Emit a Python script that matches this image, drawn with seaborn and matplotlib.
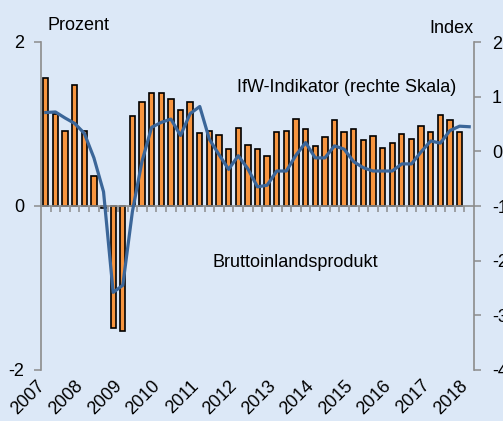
import numpy as np
import pandas as pd
import matplotlib
matplotlib.use("Agg")
import matplotlib.pyplot as plt
import matplotlib.transforms as mtransforms
import seaborn as sns

plt.rcParams['font.family'] = ['Liberation Sans', 'DejaVu Sans']
plt.rcParams['axes.unicode_minus'] = False

# ---- data ----
years = ["2007", "2008", "2009", "2010", "2011", "2012", "2013", "2014",
         "2015", "2016", "2017", "2018"]
# Bruttoinlandsprodukt, quarterly growth in %, 2007Q1 .. 2017Q4
gdp = [1.56, 1.12, 0.91, 1.48, 0.92, 0.36, -0.02, -1.49, -1.53, 1.10,
       1.27, 1.38, 1.38, 1.30, 1.17, 1.27, 0.89, 0.91, 0.87, 0.70,
       0.95, 0.75, 0.70, 0.61, 0.90, 0.91, 1.06, 0.94, 0.73, 0.84,
       1.05, 0.90, 0.94, 0.81, 0.85, 0.71, 0.77, 0.88, 0.82, 0.98,
       0.90, 1.11, 1.05, 0.90]
# IfW-Indikator (right scale), 2007Q1 .. 2018Q1
ifw = [0.71, 0.72, 0.61, 0.51, 0.33, -0.12, -0.74, -2.58, -2.45, -1.10,
       -0.18, 0.44, 0.53, 0.59, 0.29, 0.69, 0.82, 0.22, -0.06, -0.33,
       -0.08, -0.32, -0.65, -0.62, -0.36, -0.36, -0.07, 0.16, -0.12, -0.12,
       0.10, 0.04, -0.19, -0.30, -0.36, -0.36, -0.36, -0.23, -0.23, -0.01,
       0.19, 0.15, 0.38, 0.46, 0.45]
left_ticks = [-2, 0, 2]
right_ticks = [-4, -3, -2, -1, 0, 1, 2]

bg = "#dce8f7"
bar_color = "#f7953f"
line_color = "#3b6699"
spine_gray = "#8c8c8c"

df_bar = pd.DataFrame({"q": np.arange(len(gdp)), "v": gdp})
df_line = pd.DataFrame({"q": np.arange(len(ifw)), "v": ifw})
n_slots = len(ifw)

fig = plt.figure(figsize=(5.03, 4.21), dpi=100, facecolor=bg)
ax = fig.add_axes([41/503, 1-370/421, 433/503, 328/421])
ax.set_facecolor(bg)

sns.barplot(data=df_bar, x="q", y="v", native_scale=True, color=bar_color,
            saturation=1, edgecolor="black", linewidth=1.2, width=0.55,
            errorbar=None, ax=ax)
ax.set_xlim(-0.5, n_slots - 0.5)
ax.set_ylim(-2, 2)
ax.set_yticks(left_ticks)
ax.set_yticklabels([str(t) for t in left_ticks])
ax.set_xlabel("")
ax.set_ylabel("")

ax2 = ax.twinx()
sns.lineplot(data=df_line, x="q", y="v", color=line_color, linewidth=2.3,
             ax=ax2)
ax2.set_ylim(-4, 2)
ax2.set_yticks(right_ticks)
ax2.set_yticklabels([str(t) for t in right_ticks])
ax2.set_xlim(-0.5, n_slots - 0.5)
ax2.set_xlabel("")
ax2.set_ylabel("")

# spines
for s in ["top", "right"]:
    ax.spines[s].set_visible(False)
for s in ["top", "left", "bottom"]:
    ax2.spines[s].set_visible(False)
ax.spines["bottom"].set_position(("data", 0))
for a, s in [(ax, "left"), (ax, "bottom"), (ax2, "right")]:
    a.spines[s].set_color(spine_gray)
    a.spines[s].set_linewidth(1.2)

# x ticks: boundaries between quarters on the zero line
ax.set_xticks(np.arange(0.5, len(gdp), 1.0))
ax.set_xticklabels([])
ax.tick_params(axis="x", direction="out", length=4, width=1.1,
               color=spine_gray)
ax2.tick_params(axis="x", bottom=False, labelbottom=False)
ax.tick_params(axis="y", direction="out", length=5, width=1.1,
               color=spine_gray, labelsize=13, pad=7)
ax2.tick_params(axis="y", direction="out", length=5, width=1.1,
                color=spine_gray, labelsize=13, pad=8)

# year labels at Q1 positions, below the plot area
trans = mtransforms.blended_transform_factory(ax.transData, ax.transAxes)
off = mtransforms.ScaledTranslation(2.5/100, -7/100, fig.dpi_scale_trans)
for i, y in enumerate(years):
    ax.text(i*4, 0, y, transform=trans + off, rotation=45, ha="right",
            va="top", fontsize=13)

ax.text(0.016, 1.049, "Prozent", transform=ax.transAxes, ha="left",
        va="center", fontsize=13)
ax.text(0.998, 1.040, "Index", transform=ax.transAxes, ha="right",
        va="center", fontsize=13)
ax.text(0.7055, 0.8628, "IfW-Indikator (rechte Skala)", transform=ax.transAxes,
        ha="center", va="center", fontsize=13)
ax.text(0.588, 0.329, "Bruttoinlandsprodukt", transform=ax.transAxes,
        ha="center", va="center", fontsize=13)

fig.savefig("out.png", dpi=100, facecolor=bg)
